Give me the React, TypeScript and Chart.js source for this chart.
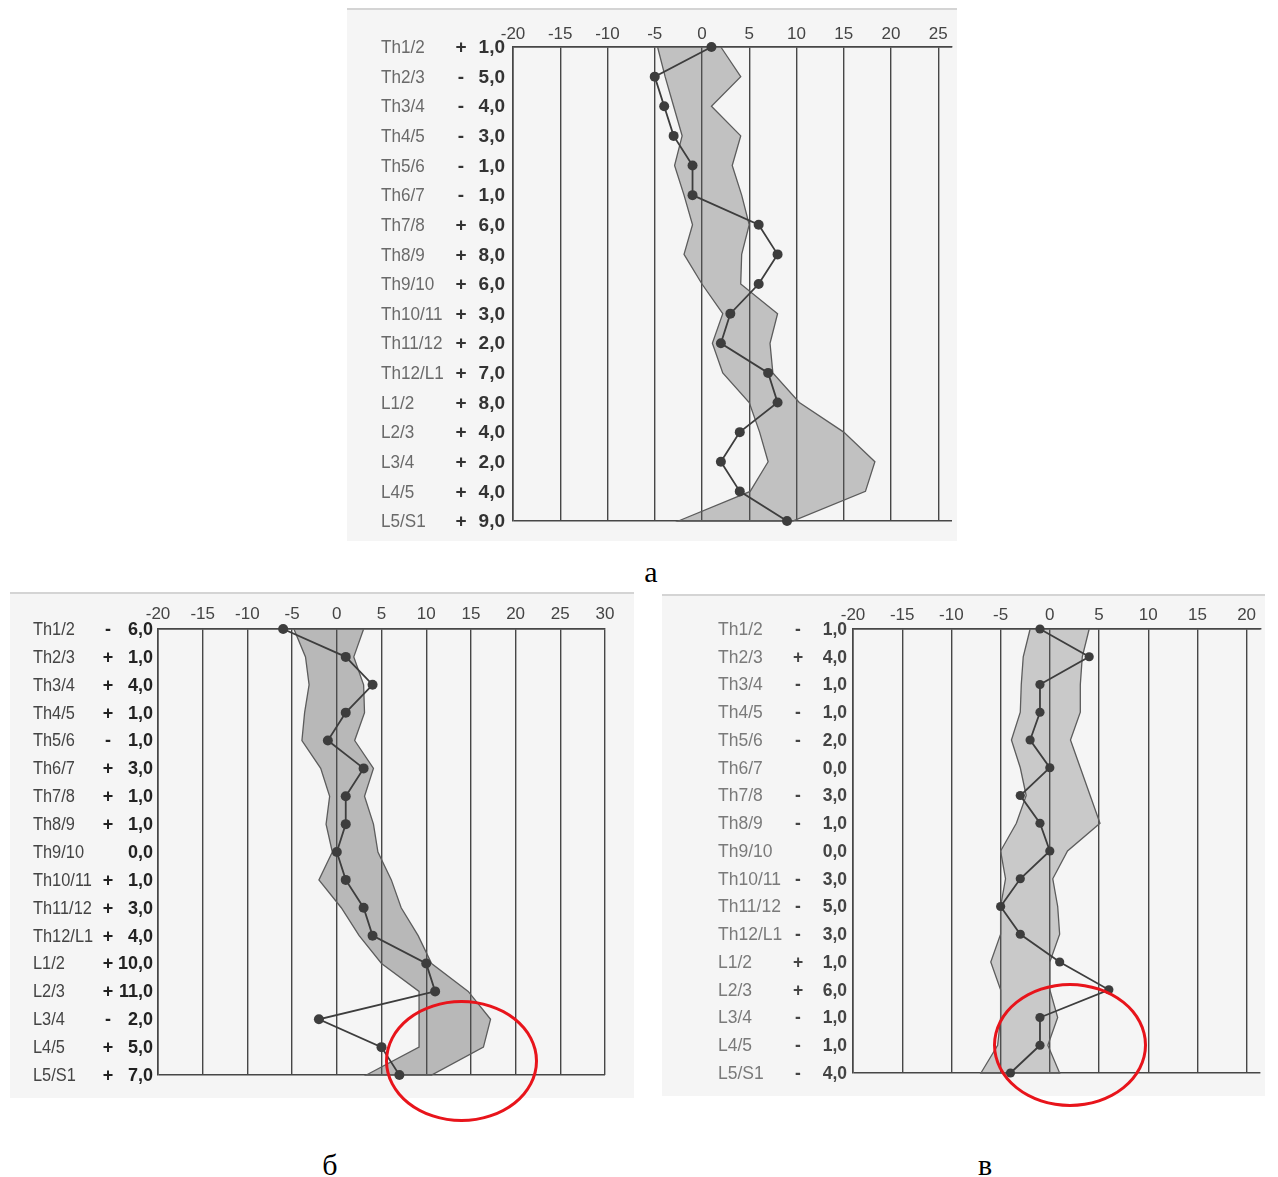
import React, { useEffect, useRef } from 'react';
import { Chart, registerables } from 'chart.js';

Chart.register(...registerables);

// ---------- data ----------
const segments = [
  'Th1/2', 'Th2/3', 'Th3/4', 'Th4/5', 'Th5/6', 'Th6/7', 'Th7/8', 'Th8/9', 'Th9/10',
  'Th10/11', 'Th11/12', 'Th12/L1', 'L1/2', 'L2/3', 'L3/4', 'L4/5', 'L5/S1',
];

// panel а
const valuesA = [1, -5, -4, -3, -1, -1, 6, 8, 6, 3, 2, 7, 8, 4, 2, 4, 9];
const bandLeftA = [-4.7, -3.9, -3.0, -2.1, -2.9, -1.9, -1.0, -1.9, 0.0, 2.2, 1.1, 2.2, 5.0, 6.1, 7.0, 5.1, -2.5];
const bandRightA = [2.0, 4.1, 1.0, 4.1, 3.2, 4.2, 5.0, 4.2, 4.1, 8.0, 7.2, 7.5, 10.3, 15.0, 18.3, 17.3, 9.6];

// panel б
const valuesB = [-6, 1, 4, 1, -1, 3, 1, 1, 0, 1, 3, 4, 10, 11, -2, 5, 7];
const bandLeftB = [-4.8, -3.5, -3.1, -3.6, -3.9, -1.8, -0.8, -1.2, -0.5, -2.0, 0.5, 2.5, 5.0, 9.2, 9.2, 9.2, 3.3];
const bandRightB = [3.0, 1.9, 3.0, 3.1, 2.0, 4.1, 3.1, 4.1, 4.6, 6.1, 7.2, 9.1, 10.6, 14.7, 17.2, 16.4, 10.6];

// panel в
const valuesC = [-1, 4, -1, -1, -2, 0, -3, -1, 0, -3, -5, -3, 1, 6, -1, -1, -4];
const bandLeftC = [-2.0, -2.7, -2.9, -3.0, -3.9, -3.0, -2.4, -3.4, -5.0, -4.5, -5.0, -5.0, -6.0, -5.0, -5.0, -5.3, -7.0];
const bandRightC = [4.0, 3.3, 3.1, 3.1, 2.1, 3.1, 4.1, 5.1, 1.8, 0.3, 0.8, 1.0, 0.0, 0.0, 0.8, -0.2, 1.0];

const xMinAll = -20;
const xStep = 5;

const captions = ['а', 'б', 'в'];

// ---------- presentation ----------
type Panel = {
  left: number; top: number; width: number; height: number;
  padLeft: number; padRight: number; padBottom: number;
  axisHeight: number; tickPad: number; tickSize: number;
  xMax: number;
  values: number[]; bandLeft: number[]; bandRight: number[];
  bandColor: string;
  labelSize: number; nameColor: string; valueColor: string; nameScale: number;
  nameX: number; signX: number; valueX: number;
  dotRadius: number;
};

const panels: Panel[] = [
  {
    left: 347, top: 8, width: 610, height: 531,
    padLeft: 166, padRight: 0, padBottom: 20,
    axisHeight: 37, tickPad: 2, tickSize: 17,
    xMax: 26.46,
    values: valuesA, bandLeft: bandLeftA, bandRight: bandRightA,
    bandColor: 'rgba(95,95,95,0.34)',
    labelSize: 19, nameColor: '#6a6a6a', valueColor: '#333', nameScale: 0.9,
    nameX: -132, signX: -52, valueX: -8,
    dotRadius: 5,
  },
  {
    left: 10, top: 592, width: 624, height: 504,
    padLeft: 148, padRight: 29, padBottom: 23,
    axisHeight: 35, tickPad: 4, tickSize: 17,
    xMax: 30,
    values: valuesB, bandLeft: bandLeftB, bandRight: bandRightB,
    bandColor: 'rgba(85,85,85,0.38)',
    labelSize: 18, nameColor: '#444', valueColor: '#222', nameScale: 0.91,
    nameX: -125, signX: -50, valueX: -5,
    dotRadius: 5,
  },
  {
    left: 662, top: 594, width: 603, height: 500,
    padLeft: 191, padRight: 0, padBottom: 23,
    axisHeight: 33, tickPad: 3, tickSize: 17,
    xMax: 21.4,
    values: valuesC, bandLeft: bandLeftC, bandRight: bandRightC,
    bandColor: 'rgba(100,100,100,0.30)',
    labelSize: 17.5, nameColor: '#7a7a7a', valueColor: '#444', nameScale: 1,
    nameX: -135, signX: -55, valueX: -6,
    dotRadius: 4.6,
  },
];

const fmtSign = (v: number) => (v > 0 ? '+' : v < 0 ? '-' : '');
const fmtVal = (v: number) => Math.abs(v).toFixed(1).replace('.', ',');

function rowLabelPlugin(p: Panel) {
  return {
    id: 'rowLabels',
    afterDraw(chart: any) {
      const { ctx, chartArea, scales } = chart;
      const y = scales.y;
      ctx.save();
      ctx.textBaseline = 'middle';
      p.values.forEach((v, i) => {
        const py = y.getPixelForValue(i) + 1;
        ctx.font = `${p.labelSize}px "Liberation Sans", Arial, sans-serif`;
        ctx.fillStyle = p.nameColor;
        ctx.textAlign = 'left';
        ctx.save();
        ctx.translate(chartArea.left + p.nameX, py);
        ctx.scale(p.nameScale, 1);
        ctx.fillText(segments[i], 0, 0);
        ctx.restore();
        ctx.font = `bold ${p.labelSize}px "Liberation Sans", Arial, sans-serif`;
        ctx.fillStyle = p.valueColor;
        ctx.textAlign = 'center';
        ctx.fillText(fmtSign(v), chartArea.left + p.signX, py);
        ctx.textAlign = 'right';
        ctx.fillText(fmtVal(v), chartArea.left + p.valueX, py);
      });
      ctx.restore();
    },
  };
}

function makeConfig(p: Panel): any {
  const polygon = [
    ...p.bandLeft.map((x, i) => ({ x, y: i })),
    ...p.bandRight.map((x, i) => ({ x, y: i })).reverse(),
  ];
  const line = p.values.map((x, i) => ({ x, y: i }));
  const gridColor = '#474747';
  return {
    type: 'scatter',
    data: {
      datasets: [
        {
          data: line,
          showLine: true,
          borderColor: '#3d3d3d',
          borderWidth: 1.8,
          pointRadius: p.dotRadius,
          pointHoverRadius: p.dotRadius,
          pointBackgroundColor: '#3d3d3d',
          pointBorderWidth: 0,
          clip: false,
          order: 1,
        },
        {
          data: polygon,
          showLine: true,
          fill: 'shape',
          backgroundColor: p.bandColor,
          borderColor: '#5c5c5c',
          borderWidth: 1.3,
          pointRadius: 0,
          pointHoverRadius: 0,
          clip: false,
          order: 2,
        },
      ],
    },
    options: {
      animation: false,
      responsive: false,
      maintainAspectRatio: false,
      events: [],
      layout: { padding: { left: p.padLeft, right: p.padRight, top: 0, bottom: p.padBottom } },
      plugins: { legend: { display: false }, tooltip: { enabled: false } },
      scales: {
        x: {
          type: 'linear',
          position: 'top',
          min: xMinAll,
          max: p.xMax,
          ticks: {
            stepSize: xStep,
            includeBounds: false,
            padding: p.tickPad,
            color: '#444',
            maxRotation: 0,
            autoSkip: false,
            font: { family: '"Liberation Sans", Arial, sans-serif', size: p.tickSize },
            callback: (v: number) => String(v),
          },
          grid: { color: gridColor, lineWidth: 1.4, drawTicks: false },
          border: { color: gridColor, width: 1.6 },
          afterFit: (s: any) => { s.height = p.axisHeight; },
        },
        y: {
          type: 'linear',
          reverse: true,
          min: 0,
          max: segments.length - 1,
          ticks: { display: false, stepSize: segments.length - 1 },
          grid: { color: gridColor, lineWidth: 1.6, drawTicks: false },
          border: { color: gridColor, width: 1.6 },
          afterFit: (s: any) => { s.width = 0; },
        },
      },
    },
    plugins: [rowLabelPlugin(p)],
  };
}

function ChartPanel({ p }: { p: Panel }) {
  const ref = useRef<HTMLCanvasElement>(null);
  useEffect(() => {
    const chart = new Chart(ref.current as HTMLCanvasElement, makeConfig(p));
    return () => chart.destroy();
  }, [p]);
  return (
    <canvas
      ref={ref}
      width={p.width}
      height={p.height}
      style={{
        position: 'absolute', left: p.left, top: p.top, width: p.width, height: p.height,
        background: '#f5f5f5', borderTop: '2px solid #d4d4d4', boxSizing: 'content-box',
      }}
    />
  );
}

const captionPos = [
  { x: 651, top: 557 },
  { x: 330, top: 1150 },
  { x: 985, top: 1150 },
];

const ellipses = [
  { left: 385, top: 1000, width: 153, height: 122 },
  { left: 993, top: 983, width: 154, height: 124 },
];

export default function App() {
  useEffect(() => {
    document.body.style.margin = '0';
    document.body.style.background = '#ffffff';
  }, []);
  return (
    <div style={{ position: 'relative', width: 1278, height: 1177, background: '#fff', overflow: 'hidden' }}>
      {panels.map((p, i) => <ChartPanel key={i} p={p} />)}
      {captions.map((c, i) => (
        <div
          key={c}
          style={{
            position: 'absolute', left: captionPos[i].x - 40, top: captionPos[i].top, width: 80,
            textAlign: 'center', fontFamily: '"Liberation Serif", "Times New Roman", serif',
            fontSize: 30, lineHeight: '30px', color: '#000',
          }}
        >
          {c}
        </div>
      ))}
      {ellipses.map((e, i) => (
        <div
          key={i}
          style={{
            position: 'absolute', left: e.left, top: e.top, width: e.width, height: e.height,
            border: '3px solid #e8141b', borderRadius: '50%', boxSizing: 'border-box',
          }}
        />
      ))}
    </div>
  );
}
